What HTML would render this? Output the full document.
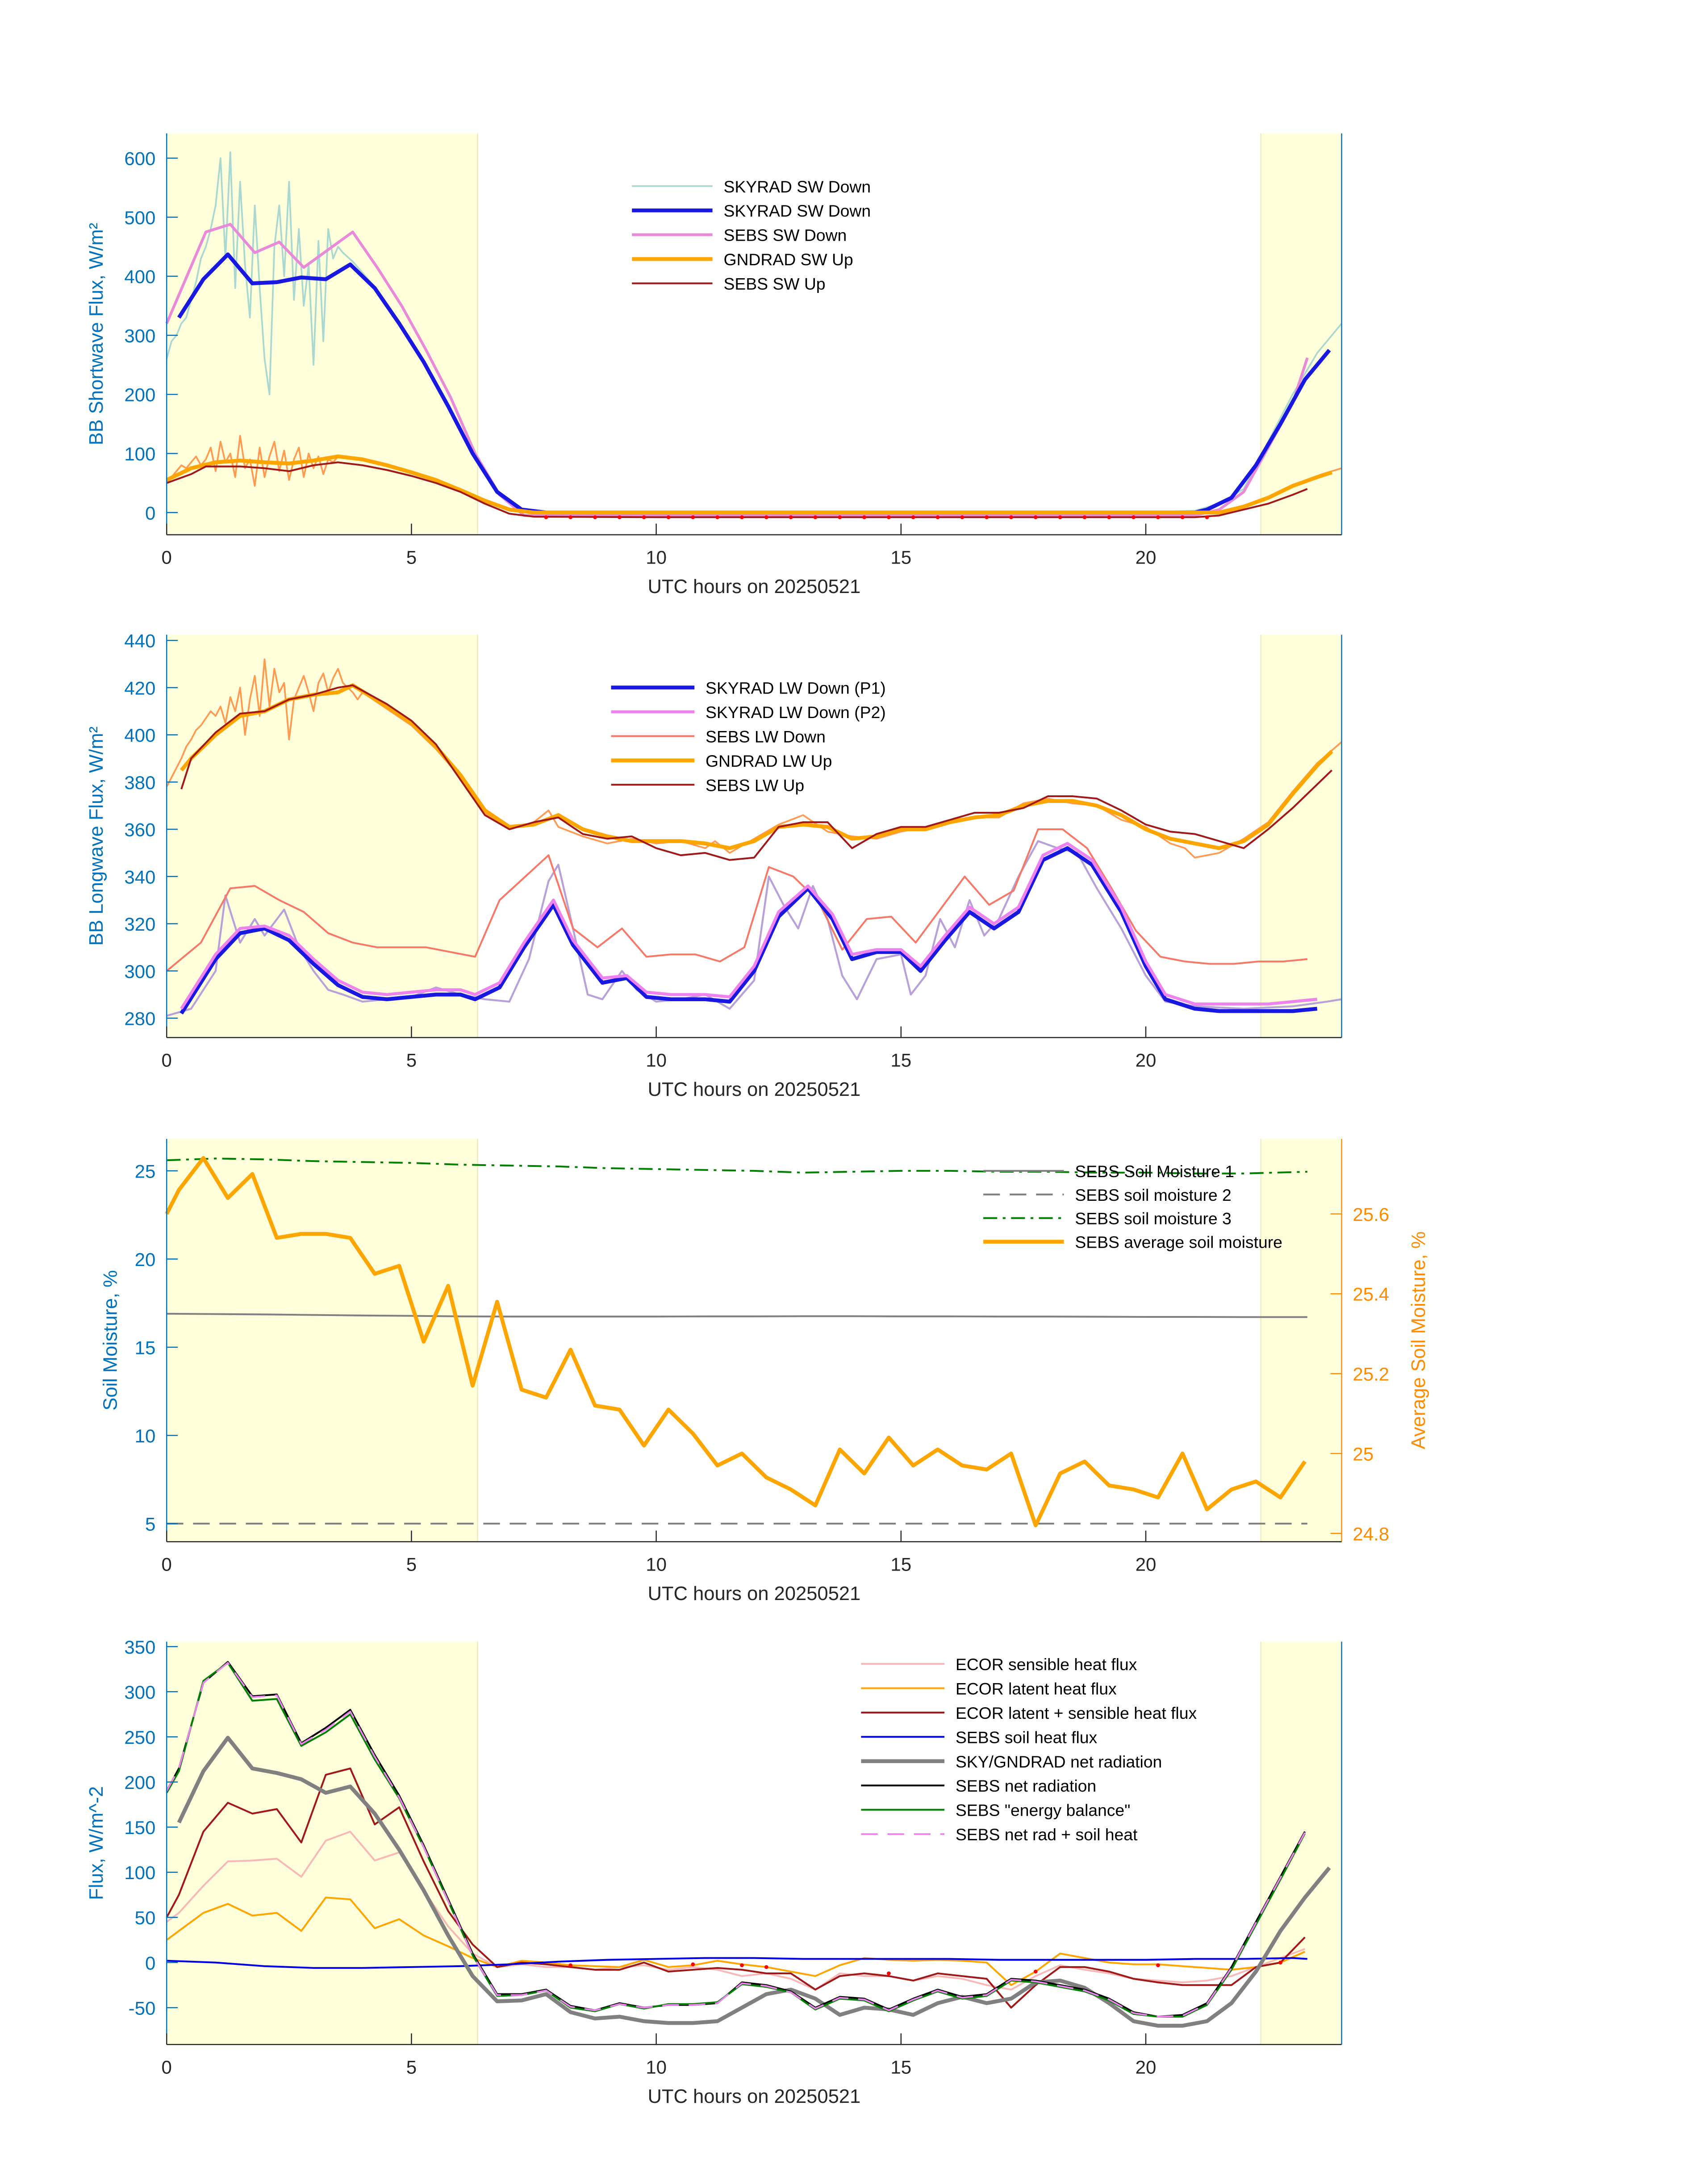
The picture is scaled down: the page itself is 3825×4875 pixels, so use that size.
<!DOCTYPE html>
<html><head><meta charset="utf-8">
<style>
html,body{margin:0;padding:0;background:#fff;}
svg{display:block;font-family:"Liberation Sans","DejaVu Sans",sans-serif;}
</style></head>
<body>
<svg id="fig" xmlns="http://www.w3.org/2000/svg" width="3825" height="4875" viewBox="0 0 1229.8 1567.4" preserveAspectRatio="none">
<rect x="0" y="0" width="1240" height="1580" fill="#fff"/>
<g id="root"></g>
</svg>
<script>
// ---------- Panel 1 data (shortwave) ----------
const p1SkyT = [0.25,0.75,1.25,1.75,2.25,2.75,3.25,3.75,4.25,4.75,5.25,5.75,6.25,6.75,7.25,7.75,8.5,10,12,14,16,18,20,21,21.25,21.75,22.25,22.75,23.25,23.75];
const p1SkyV = [330,395,437,388,390,398,395,420,380,320,255,180,100,35,5,0,0,0,0,0,0,0,0,0,5,25,80,150,225,275];
const p1SebsDnT = [0,0.8,1.3,1.8,2.3,2.8,3.3,3.8,4.3,4.8,5.3,5.8,6.3,6.8,7.3,8,10,12,14,16,18,20,21,21.5,22,22.5,23,23.3];
const p1SebsDnV = [320,475,488,440,458,415,445,475,415,350,275,195,100,30,-5,-5,-5,-5,-5,-5,-5,-5,-5,5,35,110,185,262];
const p1NoisyT = [0,0.1,0.2,0.3,0.4,0.5,0.6,0.7,0.8,0.9,1,1.1,1.2,1.3,1.4,1.5,1.6,1.7,1.8,1.9,2,2.1,2.2,2.3,2.4,2.5,2.6,2.7,2.8,2.9,3,3.1,3.2,3.3,3.4,3.5,3.6,3.8,4.25,4.75,5.25,5.75,6.25,6.75,7.25,7.75,10,15,20,21,21.5,22,22.5,23,23.5,24];
const p1NoisyV = [260,290,300,320,330,360,390,430,450,480,520,600,430,610,380,560,420,330,520,380,260,200,450,520,400,560,360,480,350,420,250,460,290,480,430,450,440,425,382,322,257,182,102,37,6,1,0,0,0,3,15,40,120,200,270,320];
const p1GndT = [0,0.5,1,1.5,2,2.5,3,3.5,4,4.5,5,5.5,6,6.5,7,7.5,10,15,20,21.5,22,22.5,23,23.5,23.8];
const p1GndV = [55,75,85,88,85,83,88,95,90,80,68,55,38,20,5,0,0,0,0,0,10,25,45,60,68];
const p1GndNoisyT = [0,0.1,0.2,0.3,0.4,0.5,0.6,0.7,0.8,0.9,1,1.1,1.2,1.3,1.4,1.5,1.6,1.7,1.8,1.9,2,2.1,2.2,2.3,2.4,2.5,2.6,2.7,2.8,2.9,3,3.1,3.2,3.3,3.4,3.5,3.6,4,4.5,5,5.5,6,6.5,7,7.5,10,15,20,21.5,22,22.5,23,23.3,23.6,24];
const p1GndNoisyV = [55,60,70,80,75,85,95,80,90,110,70,120,85,100,60,130,75,90,45,110,60,95,120,70,105,55,90,110,60,100,75,95,65,90,85,95,95,90,81,69,56,39,21,6,1,1,1,1,1,11,27,47,55,65,75];
const p1SebsUpT = [0,0.5,0.8,1.5,2,2.5,3,3.5,4,4.5,5,5.5,6,6.5,7,7.5,10,15,20,21,21.5,22,22.5,23,23.3];
const p1SebsUpV = [50,65,78,78,75,70,80,85,80,72,62,50,35,15,-2,-7,-8,-8,-8,-8,-5,5,15,30,40];
const p1DotT = [7.75,8.25,8.75,9.25,9.75,10.25,10.75,11.25,11.75,12.25,12.75,13.25,13.75,14.25,14.75,15.25,15.75,16.25,16.75,17.25,17.75,18.25,18.75,19.25,19.75,20.25,20.75,21.25];
// ---------- Panel 2 data (longwave) ----------
const p2UpT = [0.3,0.5,1,1.5,2,2.5,3,3.5,3.8,4.5,5,5.5,6,6.5,7,7.5,8,8.5,9,9.5,10,10.5,11,11.5,12,12.5,13,13.5,14,14.5,15,15.5,16,16.5,17,17.5,18,18.5,19,19.5,20,20.5,21,21.5,22,22.5,23,23.5,23.8];
const p2GndV = [385,390,400,408,410,415,417,418,421,412,405,395,383,368,361,362,366,360,357,355,355,355,354,352,355,361,362,361,356,357,360,360,363,365,366,370,372,372,370,366,360,356,354,352,355,362,375,387,393];
const p2SebsUpV = [377,390,401,409,410,415,417,420,421,413,406,396,381,366,360,363,365,358,356,357,352,349,350,347,348,361,363,363,352,358,361,361,364,367,367,369,374,374,373,368,362,359,358,355,352,360,369,379,385];
const p2NoisyT = [0,0.1,0.2,0.3,0.4,0.5,0.6,0.7,0.8,0.9,1,1.1,1.2,1.3,1.4,1.5,1.6,1.7,1.8,1.9,2,2.1,2.2,2.3,2.4,2.5,2.6,2.7,2.8,2.9,3,3.1,3.2,3.3,3.4,3.5,3.6,3.7,3.8,3.9,4,4.5,5,5.5,6,6.5,7,7.5,7.8,8,8.5,9,9.5,10,10.5,11,11.2,11.5,12,12.5,13,13.5,14,14.5,15,15.5,16,16.5,17,17.5,18,18.5,19,19.5,20,20.5,20.8,21,21.5,22,22.5,23,23.5,24];
const p2NoisyV = [378,382,386,390,395,398,402,404,407,410,408,412,405,416,410,420,400,415,425,408,432,412,428,418,422,398,415,420,425,418,410,422,426,418,424,428,422,420,418,415,418,411,404,394,382,367,360,363,368,361,357,354,356,354,355,352,355,350,356,362,366,359,357,356,359,361,364,365,365,371,373,371,370,364,361,354,352,348,350,356,363,376,388,397];
const p2P1T = [0.3,1,1.5,2,2.5,3,3.5,4,4.5,5,5.5,6,6.3,6.8,7.3,7.9,8.3,8.9,9.4,9.8,10.3,11,11.5,12,12.5,13.1,13.6,14,14.5,15,15.4,15.9,16.4,16.9,17.4,17.9,18.4,18.9,19.5,20,20.4,21,21.5,22,22.5,23,23.5];
const p2P1V = [282,305,316,318,313,303,294,289,288,289,290,290,288,293,310,328,311,295,297,289,288,288,287,300,323,335,322,305,308,308,300,313,325,318,325,347,352,345,325,302,288,284,283,283,283,283,284];
const p2P2V = [284,307,318,319,315,305,296,291,290,291,292,292,290,295,312,330,313,297,298,291,290,290,289,302,325,336,324,307,309,309,302,315,327,320,327,349,354,347,327,304,290,286,286,286,286,287,288];
const p2LightT = [0,0.5,1,1.2,1.5,1.8,2,2.4,2.7,3,3.3,3.6,4,5,5.5,6,6.5,7,7.4,7.8,8,8.3,8.6,8.9,9.3,9.6,10,10.5,11,11.5,12,12.3,12.6,12.9,13.2,13.5,13.8,14.1,14.5,15,15.2,15.5,15.8,16.1,16.4,16.7,17,17.4,17.8,18.2,18.6,19,19.5,20,20.4,21,22,23,23.7,24];
const p2LightV = [281,284,300,332,312,322,315,326,310,300,292,290,287,289,293,290,288,287,305,338,345,318,290,288,300,292,287,288,290,284,296,340,328,318,336,322,298,288,305,307,290,298,322,310,330,315,322,340,355,352,350,335,318,298,287,285,284,285,287,288];
const p2SebsDnT = [0,0.7,1.3,1.8,2.3,2.8,3.3,3.8,4.3,4.8,5.3,5.8,6.3,6.8,7.8,8.3,8.8,9.3,9.8,10.3,10.8,11.3,11.8,12.3,12.8,13.3,13.8,14.3,14.8,15.3,15.8,16.3,16.8,17.3,17.8,18.3,18.8,19.3,19.8,20.3,20.8,21.3,21.8,22.3,22.8,23.3];
const p2SebsDnV = [300,312,335,336,330,325,316,312,310,310,310,308,306,330,349,318,310,318,306,307,307,304,310,344,340,330,309,322,323,312,326,340,328,334,360,360,352,335,317,306,304,303,303,304,304,305];
// ---------- Panel 3 data (soil moisture) ----------
const p3T = [0,1,2,3,4,5,6,7,8,9,10,11,12,13,14,15,16,17,18,19,20,21,22,23.3];
const p3Sm1 = [16.9,16.88,16.86,16.83,16.8,16.78,16.75,16.74,16.74,16.74,16.74,16.75,16.75,16.76,16.76,16.75,16.75,16.74,16.74,16.73,16.72,16.72,16.71,16.71];
const p3Sm2 = [5,5,5,5,5,5,5,5,5,5,5,5,5,5,5,5,5,5,5,5,5,5,5,5];
const p3Sm3 = [25.6,25.7,25.65,25.55,25.5,25.45,25.35,25.3,25.25,25.15,25.1,25.05,25.0,24.9,24.95,25.0,25.0,24.95,24.95,24.9,24.9,24.85,24.85,24.95];
const p3AvgT = [0,0.25,0.75,1.25,1.75,2.25,2.75,3.25,3.75,4.25,4.75,5.25,5.75,6.25,6.75,7.25,7.75,8.25,8.75,9.25,9.75,10.25,10.75,11.25,11.75,12.25,12.75,13.25,13.75,14.25,14.75,15.25,15.75,16.25,16.75,17.25,17.75,18.25,18.75,19.25,19.75,20.25,20.75,21.25,21.75,22.25,22.75,23.25];
const p3AvgV = [25.6,25.66,25.74,25.64,25.7,25.54,25.55,25.55,25.54,25.45,25.47,25.28,25.42,25.17,25.38,25.16,25.14,25.26,25.12,25.11,25.02,25.11,25.05,24.97,25.0,24.94,24.91,24.87,25.01,24.95,25.04,24.97,25.01,24.97,24.96,25.0,24.82,24.95,24.98,24.92,24.91,24.89,25.0,24.86,24.91,24.93,24.89,24.98];
// ---------- Panel 4 data (fluxes) ----------
const p4T = [0,0.25,0.75,1.25,1.75,2.25,2.75,3.25,3.75,4.25,4.75,5.25,5.75,6.25,6.75,7.25,7.75,8.25,8.75,9.25,9.75,10.25,10.75,11.25,11.75,12.25,12.75,13.25,13.75,14.25,14.75,15.25,15.75,16.25,16.75,17.25,17.75,18.25,18.75,19.25,19.75,20.25,20.75,21.25,21.75,22.25,22.75,23.25];
const p4NetRad = [190,215,310,333,295,297,243,260,280,230,185,130,70,10,-35,-35,-30,-48,-53,-45,-50,-47,-47,-45,-22,-25,-32,-50,-38,-40,-52,-40,-30,-38,-35,-18,-20,-25,-30,-40,-55,-60,-58,-45,-5,45,95,145];
const p4EnergyBal = [188,212,312,332,290,292,240,255,275,225,182,128,68,8,-37,-36,-31,-50,-54,-46,-51,-46,-46,-44,-24,-27,-33,-52,-40,-42,-54,-42,-32,-40,-37,-20,-22,-27,-32,-42,-57,-60,-60,-47,-8,42,92,143];
const p4NetSoil = [190,215,310,332,294,296,242,258,278,228,183,128,68,8,-36,-36,-31,-49,-53,-46,-50,-47,-47,-45,-23,-26,-33,-51,-39,-41,-53,-41,-31,-39,-36,-19,-21,-26,-31,-41,-56,-60,-59,-46,-6,44,94,144];
const p4SensT = p4T;
const p4Sens = [45,55,85,112,113,115,95,135,145,113,122,80,40,10,-5,-2,-5,-5,-8,-5,-3,-8,-5,-8,-15,-12,-18,-30,-12,-15,-15,-20,-15,-18,-25,-30,-15,-3,-8,-12,-18,-20,-22,-20,-15,-5,5,15];
const p4Latent = [25,35,55,65,52,55,35,72,70,38,48,30,18,5,-5,2,0,-3,-4,-5,3,-5,-3,2,-2,-5,-10,-15,-3,5,3,2,3,2,0,-25,-10,10,5,0,-2,-2,-4,-6,-8,-5,0,12];
const p4LatSens = [50,75,145,177,165,170,133,208,215,153,172,112,57,20,-5,0,-2,-5,-8,-8,0,-10,-8,-6,-8,-12,-12,-30,-15,-12,-15,-20,-12,-15,-18,-50,-25,-5,-5,-10,-18,-22,-25,-25,-25,-5,0,28];
const p4GrayT = [0.25,0.75,1.25,1.75,2.25,2.75,3.25,3.75,4.25,4.75,5.25,5.75,6.25,6.75,7.25,7.75,8.25,8.75,9.25,9.75,10.25,10.75,11.25,11.75,12.25,12.75,13.25,13.75,14.25,14.75,15.25,15.75,16.25,16.75,17.25,17.75,18.25,18.75,19.25,19.75,20.25,20.75,21.25,21.75,22.25,22.75,23.25,23.75];
const p4Gray = [155,212,249,215,210,203,188,195,165,125,80,30,-15,-43,-42,-35,-55,-62,-60,-65,-67,-67,-65,-50,-35,-30,-40,-58,-50,-52,-58,-45,-38,-45,-40,-22,-20,-28,-45,-65,-70,-70,-65,-45,-10,35,72,105];
const p4SoilT = [0,1,2,3,4,5,6,7,8,9,10,11,12,13,14,15,16,17,18,19,20,21,22,23,23.3];
const p4Soil = [2,0,-4,-6,-6,-5,-4,-2,1,3,4,5,5,4,4,4,4,3,3,3,3,4,4,5,4];
const p4DotT = [8.25,10.75,11.75,12.25,14.75,17.75,20.25,22.75];
const p4DotV = [-3,-2,-3,-5,-12,-10,-3,0];

// ---------- drawing ----------
const NS = "http://www.w3.org/2000/svg";
const root = document.getElementById('root');
const X0 = 120, X1 = 966;
const xs = t => X0 + (t / 24) * (X1 - X0);
function mk(tag, attrs, parent) {
  const e = document.createElementNS(NS, tag);
  for (const k in attrs) e.setAttribute(k, attrs[k]);
  (parent || root).appendChild(e);
  return e;
}
function line(ts, vs, ys, style, name, parent) {
  let d = '';
  ts.forEach((t, i) => { if (vs[i] == null) return; d += (d ? 'L' : 'M') + xs(t).toFixed(2) + ' ' + ys(vs[i]).toFixed(2); });
  const p = mk('path', Object.assign({ d: d, fill: 'none', 'stroke-linejoin': 'round' }, style), parent);
  
  
  return p;
}
function text(x, y, s, attrs, name) {
  const e = mk('text', Object.assign({ x: x, y: y }, attrs));
  e.textContent = s;
  
  
  return e;
}
function panel(cfg) {
  const g = mk('g', {});
  
  
  const ys = v => cfg.yTop + (cfg.vMax - v) / (cfg.vMax - cfg.vMin) * (cfg.yBot - cfg.yTop);
  const s1 = mk('rect', { x: xs(0), y: cfg.yTop, width: xs(6.35) - xs(0), height: cfg.yBot - cfg.yTop, fill: '#ffffdc' }, g);
  
  
  const s2 = mk('rect', { x: xs(22.35), y: cfg.yTop, width: xs(24) - xs(22.35), height: cfg.yBot - cfg.yTop, fill: '#ffffdc' }, g);
  
  
  mk('line', { x1: xs(6.35), y1: cfg.yTop, x2: xs(6.35), y2: cfg.yBot, stroke: '#e8e8a8', 'stroke-width': 0.6 }, g);
  mk('line', { x1: xs(22.35), y1: cfg.yTop, x2: xs(22.35), y2: cfg.yBot, stroke: '#e8e8a8', 'stroke-width': 0.6 }, g);
  cfg.draw(ys, g);
  const ax = mk('g', {});
  
  
  mk('line', { x1: X0, y1: cfg.yTop, x2: X0, y2: cfg.yBot, stroke: '#0072bd', 'stroke-width': 0.8 }, ax);
  mk('line', { x1: X1, y1: cfg.yTop, x2: X1, y2: cfg.yBot, stroke: cfg.rightColor || '#0072bd', 'stroke-width': 0.8 }, ax);
  mk('line', { x1: X0, y1: cfg.yBot, x2: X1, y2: cfg.yBot, stroke: '#262626', 'stroke-width': 0.8 }, ax);
  [0, 5, 10, 15, 20].forEach(t => {
    mk('line', { x1: xs(t), y1: cfg.yBot, x2: xs(t), y2: cfg.yBot - 8, stroke: '#262626', 'stroke-width': 0.8 }, ax);
    text(xs(t), cfg.yBot + 21, String(t), { 'font-size': 13.5, fill: '#262626', 'text-anchor': 'middle' }, 'x-tick-label');
  });
  cfg.yTicks.forEach(v => {
    mk('line', { x1: X0, y1: ys(v), x2: X0 + 8, y2: ys(v), stroke: '#0072bd', 'stroke-width': 0.8 }, ax);
    text(X0 - 8, ys(v) + 5, String(v), { 'font-size': 13.5, fill: '#0072bd', 'text-anchor': 'end' }, 'y-tick-label');
  });
  text((X0 + X1) / 2, cfg.yBot + 42, 'UTC hours on 20250521', { 'font-size': 14, fill: '#262626', 'text-anchor': 'middle' }, 'x-axis-title');
  const cy = (cfg.yTop + cfg.yBot) / 2;
  text(cfg.yLabelX, cy, cfg.yLabel, { 'font-size': 14, fill: '#0072bd', 'text-anchor': 'middle', transform: 'rotate(-90 ' + cfg.yLabelX + ' ' + cy + ')' }, 'y-axis-title');
  if (cfg.extra) cfg.extra(ys);
  cfg.legend.forEach((L, i) => {
    const y = cfg.legY + i * cfg.legStep;
    const lg = mk('g', {});
    
    
    mk('line', Object.assign({ x1: cfg.legX, y1: y, x2: cfg.legX + cfg.legLen, y2: y }, L.style), lg);
    const tx = mk('text', { x: cfg.legX + cfg.legLen + 8, y: y + 4.5, 'font-size': 12, fill: '#000' }, lg);
    tx.textContent = L.label;
  });
}
function dots(ts, vs, ys, color, r, name) {
  ts.forEach((t, i) => {
    const c = mk('circle', { cx: xs(t), cy: ys(vs[i]), r: r, fill: color });
    
    
  });
}

// Panel 1
panel({
  name: 'shortwave-panel', yTop: 96, yBot: 385, vMax: 642, vMin: -37.6,
  yTicks: [0, 100, 200, 300, 400, 500, 600], yLabel: 'BB Shortwave Flux, W/m\u00B2', yLabelX: 74,
  draw: (ys) => {
    line(p1NoisyT, p1NoisyV, ys, { stroke: '#a8d8d0', 'stroke-width': 1.2 }, 'skyrad-sw-down-raw');
    line(p1GndNoisyT, p1GndNoisyV, ys, { stroke: '#ff9a50', 'stroke-width': 1.2 }, 'gndrad-sw-up-raw');
    line(p1SebsDnT, p1SebsDnV, ys, { stroke: '#e88ad8', 'stroke-width': 2 }, 'sebs-sw-down-line');
    line(p1SkyT, p1SkyV, ys, { stroke: '#1818e0', 'stroke-width': 2.8 }, 'skyrad-sw-down-line');
    line(p1GndT, p1GndV, ys, { stroke: '#ffa500', 'stroke-width': 2.8 }, 'gndrad-sw-up-line');
    line(p1SebsUpT, p1SebsUpV, ys, { stroke: '#a01818', 'stroke-width': 1.3 }, 'sebs-sw-up-line');
    dots(p1DotT, p1DotT.map(() => -8), ys, '#ff0000', 1.4, 'sebs-sw-up-marker');
  },
  legX: 455, legY: 134, legStep: 17.5, legLen: 58,
  legend: [
    { label: 'SKYRAD SW Down', style: { stroke: '#a8d8d0', 'stroke-width': 1.2 } },
    { label: 'SKYRAD SW Down', style: { stroke: '#1818e0', 'stroke-width': 2.8 } },
    { label: 'SEBS SW Down', style: { stroke: '#e88ad8', 'stroke-width': 2 } },
    { label: 'GNDRAD SW Up', style: { stroke: '#ffa500', 'stroke-width': 2.8 } },
    { label: 'SEBS SW Up', style: { stroke: '#a01818', 'stroke-width': 1.3 } }
  ]
});

// Panel 2
panel({
  name: 'longwave-panel', yTop: 457, yBot: 747, vMax: 442.4, vMin: 271.8,
  yTicks: [280, 300, 320, 340, 360, 380, 400, 420, 440], yLabel: 'BB Longwave Flux, W/m\u00B2', yLabelX: 74,
  draw: (ys) => {
    line(p2NoisyT, p2NoisyV, ys, { stroke: '#ff9a50', 'stroke-width': 1.2 }, 'gndrad-lw-up-raw');
    line(p2LightT, p2LightV, ys, { stroke: '#b8a0d8', 'stroke-width': 1.4 }, 'skyrad-lw-down-raw');
    line(p2SebsDnT, p2SebsDnV, ys, { stroke: '#f87868', 'stroke-width': 1.3 }, 'sebs-lw-down-line');
    line(p2UpT, p2GndV, ys, { stroke: '#ffa500', 'stroke-width': 2.8 }, 'gndrad-lw-up-line');
    line(p2UpT, p2SebsUpV, ys, { stroke: '#a01818', 'stroke-width': 1.3 }, 'sebs-lw-up-line');
    line(p2P1T, p2P1V, ys, { stroke: '#1818e0', 'stroke-width': 2.8 }, 'skyrad-lw-down-p1-line');
    line(p2P1T, p2P2V, ys, { stroke: '#ee82ee', 'stroke-width': 2.2 }, 'skyrad-lw-down-p2-line');
  },
  legX: 440, legY: 495, legStep: 17.5, legLen: 60,
  legend: [
    { label: 'SKYRAD LW Down (P1)', style: { stroke: '#1818e0', 'stroke-width': 2.8 } },
    { label: 'SKYRAD LW Down (P2)', style: { stroke: '#ee82ee', 'stroke-width': 2.2 } },
    { label: 'SEBS LW Down', style: { stroke: '#f87868', 'stroke-width': 1.3 } },
    { label: 'GNDRAD LW Up', style: { stroke: '#ffa500', 'stroke-width': 2.8 } },
    { label: 'SEBS LW Up', style: { stroke: '#a01818', 'stroke-width': 1.3 } }
  ]
});

// Panel 3
const ysR = v => 1104 - (v - 24.8) * 287.5;
panel({
  name: 'soil-moisture-panel', yTop: 820, yBot: 1110, vMax: 26.81, vMin: 3.976,
  yTicks: [5, 10, 15, 20, 25], yLabel: 'Soil Moisture, %', yLabelX: 84, rightColor: '#ff8c00',
  draw: (ys) => {
    line(p3T, p3Sm1, ys, { stroke: '#808080', 'stroke-width': 1.3 }, 'soil-moisture-1-line');
    line(p3T, p3Sm2, ys, { stroke: '#808080', 'stroke-width': 1.3, 'stroke-dasharray': '12 7' }, 'soil-moisture-2-line');
    line(p3T, p3Sm3, ys, { stroke: '#008000', 'stroke-width': 1.3, 'stroke-dasharray': '10 4 2 4' }, 'soil-moisture-3-line');
    line(p3AvgT, p3AvgV, ysR, { stroke: '#ffa500', 'stroke-width': 2.8 }, 'average-soil-moisture-line');
  },
  extra: () => {
    [24.8, 25, 25.2, 25.4, 25.6].forEach(v => {
      mk('line', { x1: X1, y1: ysR(v), x2: X1 - 8, y2: ysR(v), stroke: '#ff8c00', 'stroke-width': 0.8 });
      text(X1 + 8, ysR(v) + 5, String(v), { 'font-size': 13.5, fill: '#ff8c00' }, 'right-y-tick-label');
    });
    const cx = 1026, cy = 965;
    text(cx, cy, 'Average Soil Moisture, %', { 'font-size': 14, fill: '#ff8c00', 'text-anchor': 'middle', transform: 'rotate(-90 ' + cx + ' ' + cy + ')' }, 'right-y-axis-title');
  },
  legX: 708, legY: 843, legStep: 17, legLen: 58,
  legend: [
    { label: 'SEBS Soil Moisture 1', style: { stroke: '#808080', 'stroke-width': 1.3 } },
    { label: 'SEBS soil moisture 2', style: { stroke: '#808080', 'stroke-width': 1.3, 'stroke-dasharray': '12 7' } },
    { label: 'SEBS soil moisture 3', style: { stroke: '#008000', 'stroke-width': 1.3, 'stroke-dasharray': '10 4 2 4' } },
    { label: 'SEBS average soil moisture', style: { stroke: '#ffa500', 'stroke-width': 2.8 } }
  ]
});

// Panel 4
panel({
  name: 'energy-flux-panel', yTop: 1182, yBot: 1472, vMax: 355.4, vMin: -90.8,
  yTicks: [-50, 0, 50, 100, 150, 200, 250, 300, 350], yLabel: 'Flux, W/m^-2', yLabelX: 74,
  draw: (ys) => {
    line(p4SensT, p4Sens, ys, { stroke: '#f8b8b8', 'stroke-width': 1.3 }, 'ecor-sensible-line');
    line(p4T, p4Latent, ys, { stroke: '#ffa500', 'stroke-width': 1.3 }, 'ecor-latent-line');
    line(p4T, p4LatSens, ys, { stroke: '#a01818', 'stroke-width': 1.3 }, 'ecor-latent-sensible-line');
    line(p4SoilT, p4Soil, ys, { stroke: '#0000e0', 'stroke-width': 1.3 }, 'sebs-soil-heat-line');
    line(p4GrayT, p4Gray, ys, { stroke: '#808080', 'stroke-width': 2.8 }, 'sky-gndrad-net-rad-line');
    line(p4T, p4NetRad, ys, { stroke: '#000', 'stroke-width': 1.3 }, 'sebs-net-rad-line');
    line(p4T, p4EnergyBal, ys, { stroke: '#008000', 'stroke-width': 1.3 }, 'sebs-energy-balance-line');
    line(p4T, p4NetSoil, ys, { stroke: '#ee82ee', 'stroke-width': 1.2, 'stroke-dasharray': '12 7' }, 'sebs-net-rad-soil-line');
    dots(p4DotT, p4DotV, ys, '#ff0000', 1.4, 'ecor-marker');
  },
  legX: 620, legY: 1198, legStep: 17.5, legLen: 60,
  legend: [
    { label: 'ECOR sensible heat flux', style: { stroke: '#f8b8b8', 'stroke-width': 1.3 } },
    { label: 'ECOR latent heat flux', style: { stroke: '#ffa500', 'stroke-width': 1.3 } },
    { label: 'ECOR latent + sensible heat flux', style: { stroke: '#a01818', 'stroke-width': 1.3 } },
    { label: 'SEBS soil heat flux', style: { stroke: '#0000e0', 'stroke-width': 1.3 } },
    { label: 'SKY/GNDRAD net radiation', style: { stroke: '#808080', 'stroke-width': 2.8 } },
    { label: 'SEBS net radiation', style: { stroke: '#000', 'stroke-width': 1.3 } },
    { label: 'SEBS "energy balance"', style: { stroke: '#008000', 'stroke-width': 1.3 } },
    { label: 'SEBS net rad + soil heat', style: { stroke: '#ee82ee', 'stroke-width': 1.2, 'stroke-dasharray': '12 7' } }
  ]
});
</script>
</body></html>
